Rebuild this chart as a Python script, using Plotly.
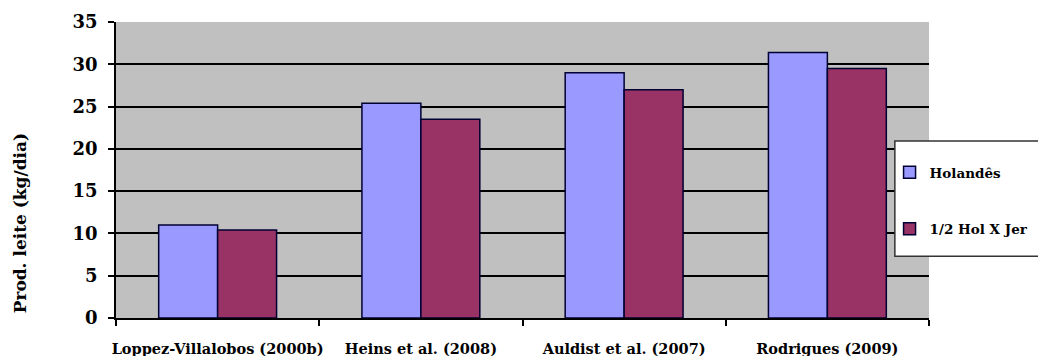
import plotly.graph_objects as go

categories = ["Loppez-Villalobos (2000b)", "Heins et al. (2008)", "Auldist et al. (2007)", "Rodrigues (2009)"]
holandes = [11.0, 25.4, 29.0, 31.4]
mestico = [10.4, 23.5, 27.0, 29.5]
series_names = ["Holandês", "1/2 Hol X Jer"]
y_ticks = [0, 5, 10, 15, 20, 25, 30, 35]

FONT = "DejaVu Serif"

fig = go.Figure()
fig.add_trace(go.Bar(x=categories, y=holandes, name=series_names[0], legendgroup="a",
                     marker=dict(color="#9999FF", line=dict(color="#000033", width=1.5))))
fig.add_trace(go.Bar(x=categories, y=mestico, name=series_names[1], legendgroup="b",
                     marker=dict(color="#993366", line=dict(color="#000033", width=1.5))))

fig.update_layout(
    width=1038, height=356,
    margin=dict(l=116, r=109, t=22, b=38, autoexpand=False),
    paper_bgcolor="white",
    plot_bgcolor="#C0C0C0",
    barmode="group",
    bargap=0.42,
    bargroupgap=0,
    font=dict(family=FONT, color="black"),
    showlegend=True,
    legend=dict(
        xref="container", yref="container",
        x=0.857, y=0.559, xanchor="left", yanchor="top",
        bgcolor="rgba(0,0,0,0)", borderwidth=0,
        font=dict(family=FONT, size=13.5, color="black", weight="bold"),
        tracegroupgap=36, itemwidth=30,
    ),
    shapes=[dict(
        type="rect", xref="paper", yref="paper",
        x0=0.958, x1=1.25, y0=0.209, y1=0.598,
        fillcolor="white", line=dict(color="#333333", width=1.5), layer="above",
    )],
    xaxis=dict(
        showline=True, linecolor="black", linewidth=1.5,
        ticks="outside", tickson="boundaries", ticklen=6, tickcolor="black", tickwidth=1.5,
        tickfont=dict(family=FONT, size=14.5, weight="bold"),
        tickangle=0, automargin=False,
        ticklabelstandoff=17,
    ),
    yaxis=dict(
        range=[0, 35], tickvals=y_ticks,
        showline=True, linecolor="black", linewidth=1.5,
        showgrid=True, gridcolor="black", gridwidth=1.5,
        ticks="outside", ticklen=6, tickcolor="black", tickwidth=1.5,
        tickfont=dict(family=FONT, size=18, weight="bold"),
        ticklabelstandoff=7, automargin=False,
        zeroline=False,
    ),
    annotations=[dict(
        text="Prod. leite (kg/dia)", textangle=-90,
        xref="paper", yref="paper", x=-0.118, y=0.32,
        xanchor="center", yanchor="middle", showarrow=False,
        font=dict(family=FONT, size=17, weight="bold", color="black"),
    )],
)

fig.write_html("out.html")
